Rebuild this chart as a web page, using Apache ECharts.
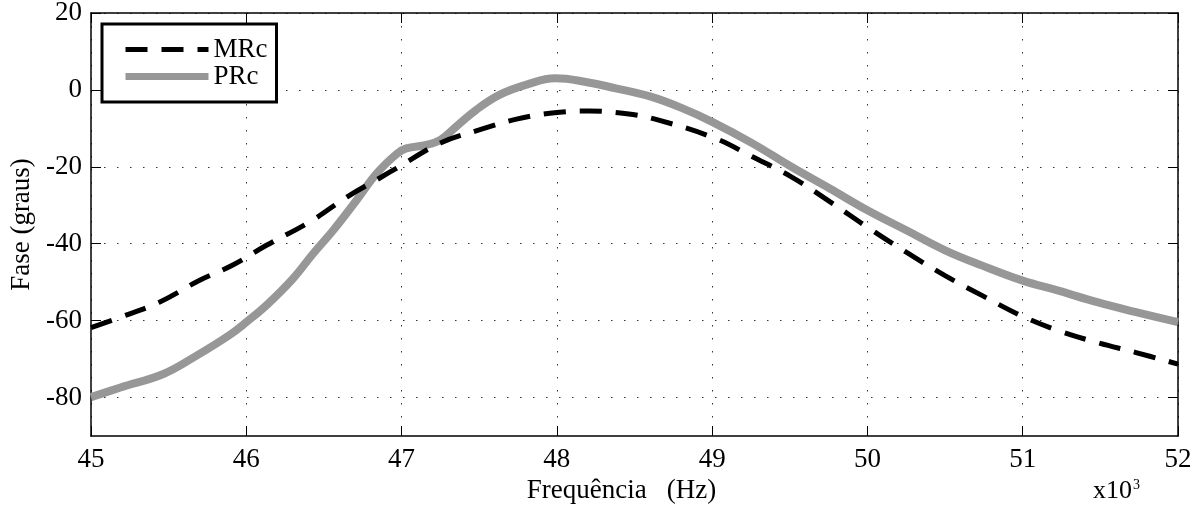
<!DOCTYPE html>
<html>
<head>
<meta charset="utf-8">
<script src="https://cdn.jsdelivr.net/npm/echarts@6/dist/echarts.min.js"></script>
<style>
  html, body { margin: 0; padding: 0; background: #fff; }
  #main { width: 1200px; height: 510px; }
</style>
</head>
<body>
<div id="main"></div>
<script>
// frequencia em kHz (eixo x * 10^3)
var mrcFreq = [45.0, 45.19, 45.44, 45.70, 45.91, 46.13, 46.41, 46.65, 46.86, 46.97, 47.25, 47.50, 47.74, 47.97, 48.21, 48.45, 48.65, 49.02, 49.26, 49.51, 49.76, 50.0, 50.25, 50.5, 50.74, 50.99, 51.23, 51.48, 51.73, 52.0];
var mrcFase = [-61.8, -59.1, -55.2, -49.5, -45.6, -40.4, -34.3, -27.8, -22.9, -20.3, -13.8, -10.4, -7.6, -6.0, -5.5, -6.2, -7.8, -12.6, -17.4, -22.6, -29.1, -35.7, -42.2, -48.3, -53.5, -58.7, -62.6, -65.7, -68.3, -71.3];

var prcFreq = [45.0, 45.19, 45.47, 45.68, 45.89, 46.0, 46.13, 46.30, 46.43, 46.56, 46.71, 46.84, 46.97, 47.03, 47.16, 47.25, 47.35, 47.48, 47.63, 47.80, 47.99, 48.17, 48.38, 48.60, 48.81, 49.0, 49.26, 49.51, 49.76, 50.0, 50.25, 50.5, 50.74, 51.0, 51.23, 51.48, 51.73, 52.0];
var prcFase = [-79.9, -77.4, -73.8, -69.1, -63.8, -60.4, -56.0, -49.1, -42.6, -36.5, -28.7, -21.7, -16.6, -15.2, -14.3, -13.0, -9.6, -5.2, -1.3, 1.3, 3.0, 2.2, 0.4, -1.7, -4.8, -8.3, -13.9, -20.0, -25.7, -31.3, -36.5, -41.7, -45.7, -49.6, -52.2, -55.2, -57.8, -60.4];

var yTicks = [-80, -60, -40, -20, 0, 20];

function pares(xs, ys) {
    var out = [];
    for (var i = 0; i < xs.length; i++) out.push([xs[i], ys[i]]);
    return out;
}

var fonte = 'Liberation Serif';
var tracoMRc = [22, 14];
var chart = echarts.init(document.getElementById('main'));

var option = {
    backgroundColor: '#fff',
    animation: false,
    textStyle: { fontFamily: fonte, color: '#000' },
    grid: { left: 91, right: 22, top: 13, bottom: 74, outerBoundsMode: 'none', containLabel: false },
    legend: {
        left: 102,
        top: 24,
        orient: 'vertical',
        data: [
            { name: 'MRc', lineStyle: { width: 5, color: '#000', type: tracoMRc } },
            { name: 'PRc', lineStyle: { width: 7, color: '#979797', type: 'solid' } }
        ],
        backgroundColor: '#fff',
        borderColor: '#000',
        borderWidth: 3,
        borderRadius: 0,
        padding: [12, 9, 12, 20],
        itemGap: 0,
        itemWidth: 83,
        itemHeight: 14,
        itemStyle: { color: 'rgba(0,0,0,0)', borderWidth: 0, opacity: 0 },
        textStyle: { fontFamily: fonte, fontSize: 27, color: '#000', lineHeight: 24 }
    },
    xAxis: [
        {
            type: 'value',
            min: 45, max: 52, interval: 1,
            name: 'Frequência   (Hz)',
            nameLocation: 'middle',
            nameGap: 34,
            nameTextStyle: { fontFamily: fonte, fontSize: 27, color: '#000', padding: [0, 26, 0, 0] },
            axisLine: { show: true, onZero: false, lineStyle: { color: '#000', width: 1.5 } },
            axisTick: { show: true, inside: true, length: 10, lineStyle: { color: '#000' } },
            axisLabel: { margin: 10, fontSize: 27, color: '#000', fontFamily: fonte, showMinLabel: true, showMaxLabel: true },
            splitLine: { show: true, lineStyle: { color: '#333', width: 1, type: [1.5, 11.5] } }
        },
        {
            type: 'value',
            position: 'top',
            min: 45, max: 52, interval: 1,
            axisLine: { show: true, onZero: false, lineStyle: { color: '#000', width: 1.5 } },
            axisTick: { show: true, inside: true, length: 10, lineStyle: { color: '#000' } },
            axisLabel: { show: false },
            splitLine: { show: false }
        }
    ],
    yAxis: [
        {
            type: 'value',
            min: -90, max: 20,
            name: 'Fase (graus)',
            nameLocation: 'middle',
            nameRotate: 90,
            nameGap: 56,
            nameTextStyle: { fontFamily: fonte, fontSize: 27, color: '#000' },
            axisLine: { show: true, onZero: false, lineStyle: { color: '#000', width: 1.5 } },
            axisTick: { show: true, inside: true, length: 10, customValues: yTicks, lineStyle: { color: '#000' } },
            axisLabel: { margin: 9, fontSize: 27, color: '#000', fontFamily: fonte, customValues: yTicks },
            splitLine: { show: true, lineStyle: { color: '#333', width: 1, type: [1.5, 11.5] } }
        },
        {
            type: 'value',
            position: 'right',
            min: -90, max: 20,
            axisLine: { show: true, onZero: false, lineStyle: { color: '#000', width: 1.5 } },
            axisTick: { show: true, inside: true, length: 10, customValues: yTicks, lineStyle: { color: '#000' } },
            axisLabel: { show: false },
            splitLine: { show: false }
        }
    ],
    graphic: [
        {
            type: 'text',
            left: 1093,
            top: 478,
            style: {
                text: '{a|x10}{b|3}',
                rich: {
                    a: { fontFamily: fonte, fontSize: 26, fill: '#000', verticalAlign: 'bottom' },
                    b: { fontFamily: fonte, fontSize: 14, fill: '#000', verticalAlign: 'top', padding: [0, 0, 12, 1] }
                }
            }
        }
    ],
    series: [
        {
            name: 'MRc',
            type: 'line',
            data: pares(mrcFreq, mrcFase),
            symbol: 'none',
            smooth: 0.4,
            z: 3,
            itemStyle: { color: '#000' },
            lineStyle: { color: '#000', width: 5, type: tracoMRc }
        },
        {
            name: 'PRc',
            type: 'line',
            data: pares(prcFreq, prcFase),
            symbol: 'none',
            smooth: 0.4,
            z: 2,
            itemStyle: { color: '#979797' },
            lineStyle: { color: '#979797', width: 8 }
        }
    ]
};

chart.setOption(option);
window.addEventListener('resize', chart.resize);
</script>
</body>
</html>
